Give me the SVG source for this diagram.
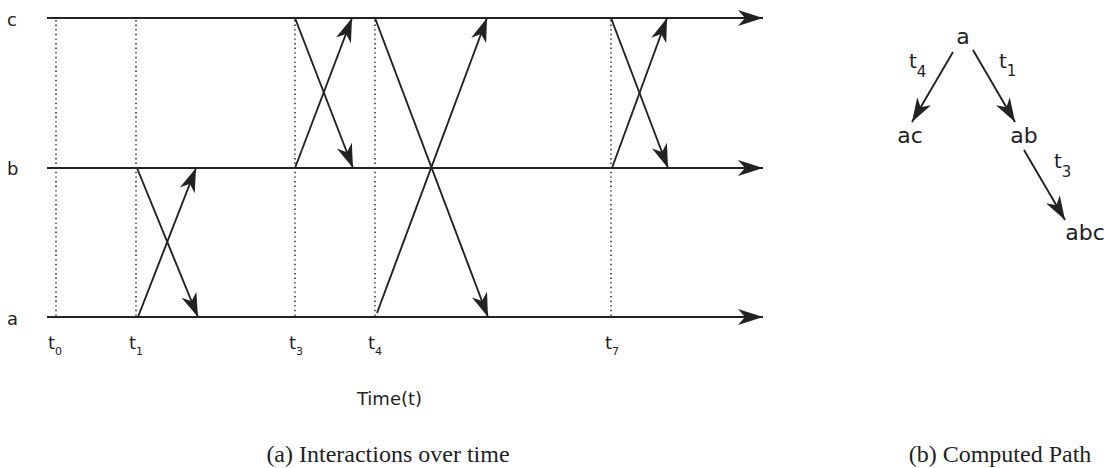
<svg xmlns="http://www.w3.org/2000/svg" width="1113" height="468" viewBox="0 0 1113 468">
<style>
.lane{stroke:#222;stroke-width:2;fill:none}
.msg{stroke:#222;stroke-width:1.9;fill:none}
.dot{stroke:#333;stroke-width:1.6;stroke-dasharray:1.4 3.2;fill:none}
.lbl{font-family:"DejaVu Sans",Verdana,sans-serif;fill:#222}
.cap{font-family:"Liberation Serif","Times New Roman",serif;fill:#222;font-size:24px}
</style>
<defs>
<marker id="big" markerUnits="userSpaceOnUse" viewBox="-27 -10 29 20" markerWidth="29" markerHeight="20" refX="0" refY="0" orient="auto">
<path d="M0,0 L-25,-8 L-18,0 L-25,8 Z" fill="#222"/>
</marker>
<marker id="arr" markerUnits="userSpaceOnUse" viewBox="-26 -10 28 20" markerWidth="28" markerHeight="20" refX="0" refY="0" orient="auto">
<path d="M0,0 L-24,-8 L-17,0 L-24,8 Z" fill="#222"/>
</marker>
</defs>
<rect width="1113" height="468" fill="#fff"/>
<g id="lanes">
<line class="lane" x1="47" y1="18" x2="763" y2="18" marker-end="url(#big)"/>
<line class="lane" x1="47" y1="168" x2="763" y2="168" marker-end="url(#big)"/>
<line class="lane" x1="47" y1="317" x2="763" y2="317" marker-end="url(#big)"/>
<text class="lbl" x="7" y="26" font-size="18">c</text>
<text class="lbl" x="7" y="175" font-size="18">b</text>
<text class="lbl" x="7" y="325" font-size="18">a</text>
</g>
<g id="timemarks">
<line class="dot" x1="56" y1="20" x2="56" y2="316"/>
<line class="dot" x1="136" y1="20" x2="136" y2="316"/>
<line class="dot" x1="295" y1="20" x2="295" y2="316"/>
<line class="dot" x1="375" y1="20" x2="375" y2="316"/>
<line class="dot" x1="611" y1="20" x2="611" y2="316"/>
<text class="lbl" x="48" y="349" font-size="18">t<tspan font-size="11" dy="6">0</tspan></text>
<text class="lbl" x="129" y="349" font-size="18">t<tspan font-size="11" dy="6">1</tspan></text>
<text class="lbl" x="289" y="349" font-size="18">t<tspan font-size="11" dy="6">3</tspan></text>
<text class="lbl" x="368" y="349" font-size="18">t<tspan font-size="11" dy="6">4</tspan></text>
<text class="lbl" x="605" y="349" font-size="18">t<tspan font-size="11" dy="6">7</tspan></text>
<text class="lbl" x="389.5" y="405" font-size="18" text-anchor="middle">Time(t)</text>
</g>
<g id="connectors">
<line class="msg" x1="137" y1="168" x2="198" y2="317" marker-end="url(#arr)"/>
<line class="msg" x1="138" y1="317" x2="196" y2="168" marker-end="url(#arr)"/>
<line class="msg" x1="295" y1="18" x2="353" y2="168" marker-end="url(#arr)"/>
<line class="msg" x1="295" y1="168" x2="352" y2="18" marker-end="url(#arr)"/>
<line class="msg" x1="375" y1="18" x2="488" y2="317" marker-end="url(#arr)"/>
<line class="msg" x1="377" y1="313" x2="487" y2="18" marker-end="url(#arr)"/>
<line class="msg" x1="611" y1="18" x2="668" y2="168" marker-end="url(#arr)"/>
<line class="msg" x1="612" y1="168" x2="667" y2="18" marker-end="url(#arr)"/>
<line class="msg" x1="953" y1="52" x2="912" y2="122" marker-end="url(#arr)"/>
<line class="msg" x1="973" y1="50" x2="1015" y2="122" marker-end="url(#arr)"/>
<line class="msg" x1="1024" y1="150" x2="1065" y2="220" marker-end="url(#arr)"/>
</g>
<g id="node-a"><text class="lbl" x="963" y="44" font-size="22" text-anchor="middle">a</text></g>
<g id="node-ac"><text class="lbl" x="910" y="143" font-size="22" text-anchor="middle">ac</text></g>
<g id="node-ab"><text class="lbl" x="1024" y="143" font-size="22" text-anchor="middle">ab</text></g>
<g id="node-abc"><text class="lbl" x="1085" y="240" font-size="22" text-anchor="middle">abc</text></g>
<g id="edge-labels">
<text class="lbl" x="909" y="68" font-size="20">t<tspan font-size="15" dy="9">4</tspan></text>
<text class="lbl" x="999" y="68" font-size="20">t<tspan font-size="15" dy="8">1</tspan></text>
<text class="lbl" x="1054" y="168" font-size="20">t<tspan font-size="15" dy="9">3</tspan></text>
</g>
<g id="captions">
<text class="cap" x="388" y="462" text-anchor="middle">(a) Interactions over time</text>
<text class="cap" x="1000" y="462" text-anchor="middle">(b) Computed Path</text>
</g>
</svg>
